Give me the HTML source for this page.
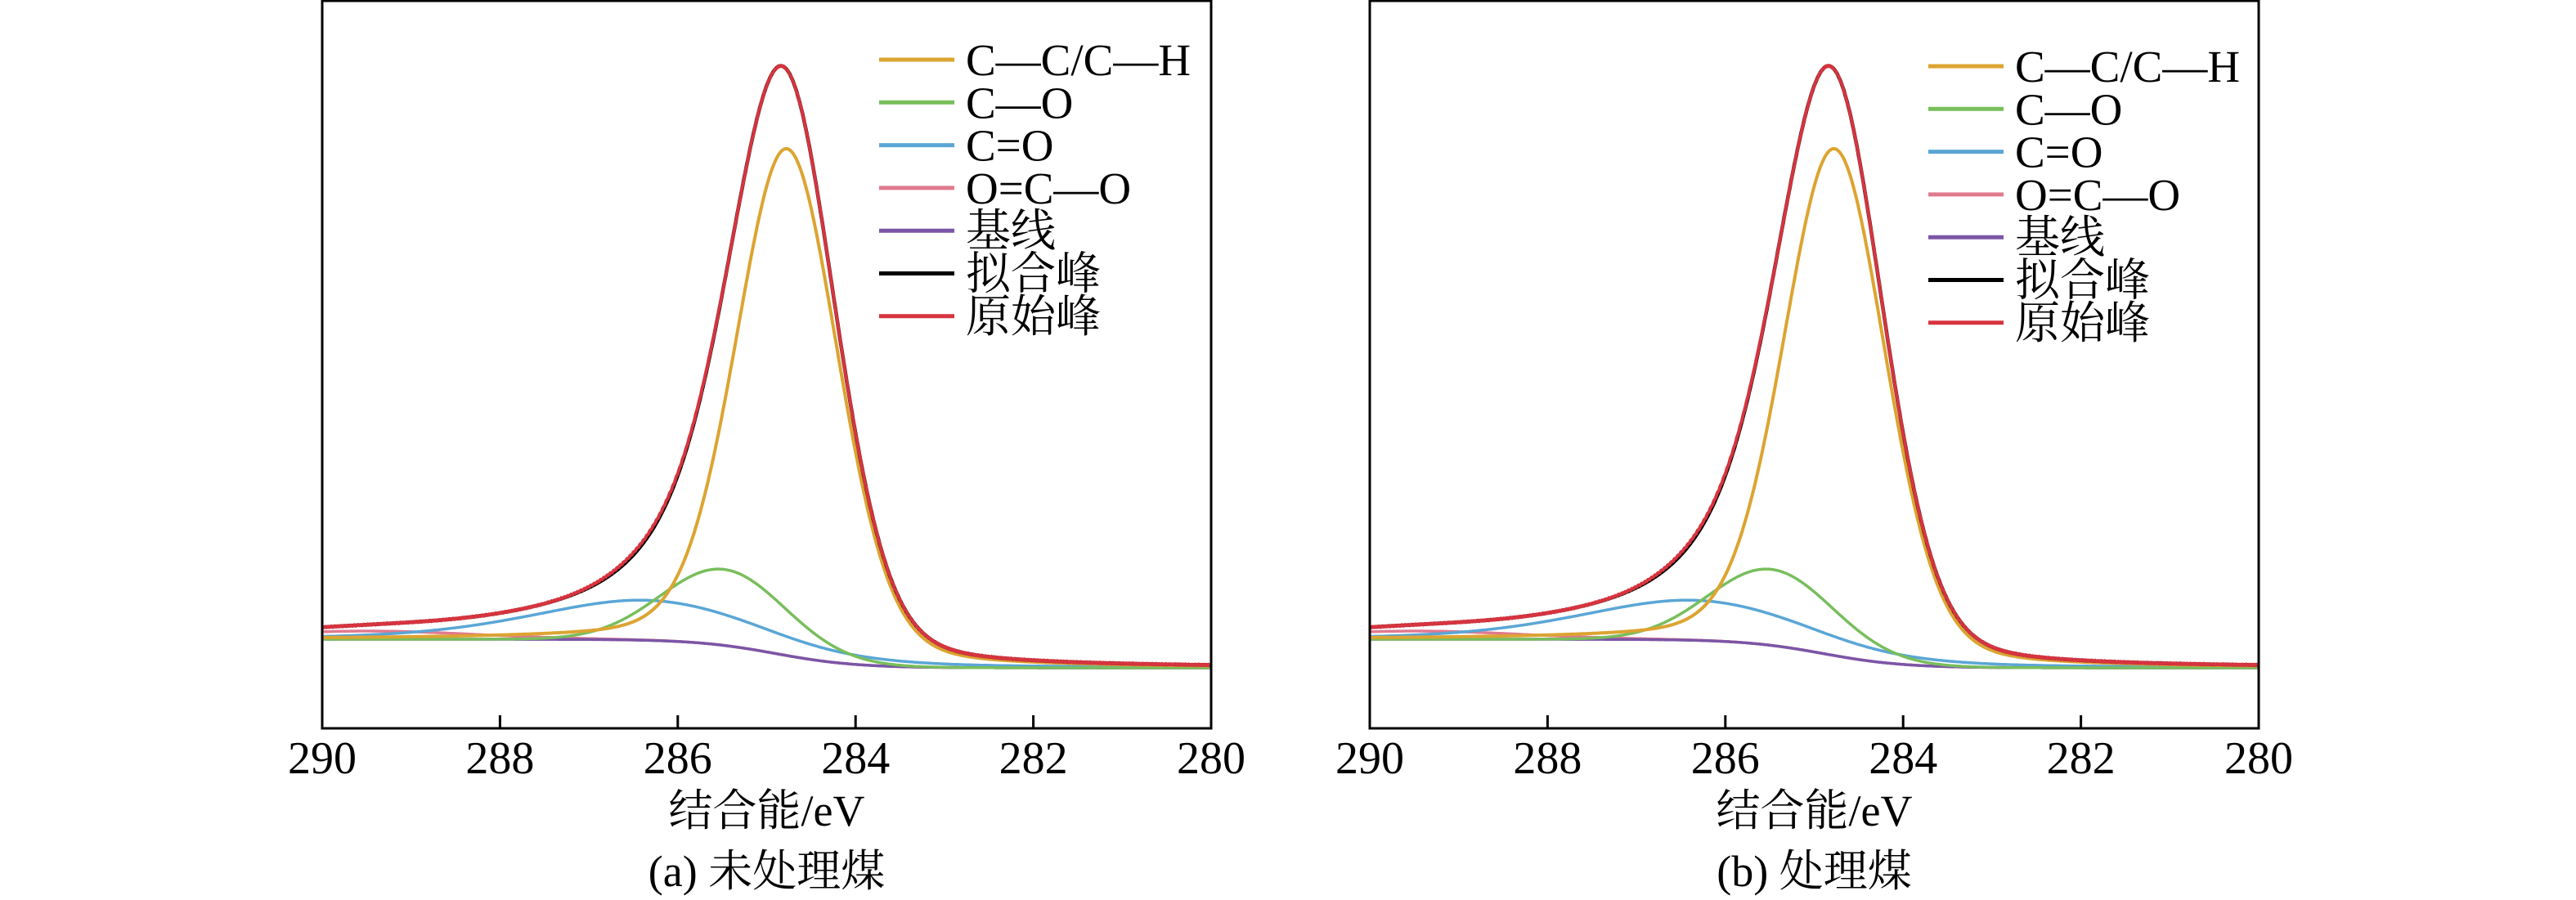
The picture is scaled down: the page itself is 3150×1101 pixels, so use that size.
<!DOCTYPE html>
<html><head><meta charset="utf-8"><style>
html,body{margin:0;padding:0;background:#fff;}
svg{display:block;}
</style></head><body>
<svg id="s" width="3150" height="1101" xmlns="http://www.w3.org/2000/svg"></svg>
<script>
const s=document.getElementById('s');
const FF='"Liberation Serif","Times New Roman","DejaVu Serif","Noto Serif CJK SC","Noto Sans CJK SC",serif';
function el(t,a,txt){const e=document.createElementNS('http://www.w3.org/2000/svg',t);for(const k in a)e.setAttribute(k,a[k]);if(txt!==undefined){e.textContent=txt;e.setAttribute('font-family',FF);e.style.fontFamily=FF;}s.appendChild(e);return e;}
function panel(L,R,legY,legX,caption,shift){
  const T=1,B=891,W=R-L;
  const X=x=>L+(290-x)*W/10;
  const base=x=>817-35/(1+Math.exp(-(x-284.9)/0.45));
  const g=(x,c,sg)=>Math.exp(-((x-c)*(x-c))/(2*sg*sg));
  const lz=(x,c,gm)=>1/(1+((x-c)/gm)*((x-c)/gm));
  const yel=x=>620*(0.8*g(x,284.77+shift,0.58)+0.2*lz(x,284.77+shift,0.68));
  const grn=x=>93*g(x,285.48+shift,0.7);
  const blu=x=>49*(0.6*g(x,286.36+shift,1.3)+0.4*lz(x,286.36+shift,1.5));
  const pnk=x=>10*g(x,289.5,1.2);
  const tot=x=>yel(x)+grn(x)+blu(x)+pnk(x)+22*g(x,285.1+shift,0.5);
  function path(f,col,w,noisy){let d='';for(let i=0;i<=1000;i++){const x=290-i*0.01;let y=base(x)-f(x);if(noisy)y+=Math.sin(i*1.7)*0.8;d+=(i?'L':'M')+X(x).toFixed(1)+' '+y.toFixed(1);}el('path',{d,fill:'none',stroke:col,'stroke-width':w,'stroke-linejoin':'round'});}
  path(pnk,'#e07a8f',3.5);
  path(x=>0,'#7b56a6',3.5);
  path(blu,'#5aa6d6',3.5);
  path(grn,'#78be5c',3.5);
  path(yel,'#dca431',4);
  path(tot,'#000',4.5);
  path(x=>tot(x)+ (x>285.5&&x<287.5?3*g(x,286.3,0.5):0),'#d7343f',4,true);
  el('rect',{x:L,y:T,width:W,height:B-T,fill:'none',stroke:'#000','stroke-width':3});
  for(let k=0;k<=5;k++){const x=L+k*W/5;if(k>0&&k<5)el('line',{x1:x,y1:B,x2:x,y2:B-16,stroke:'#000','stroke-width':3});
    el('text',{x:x,y:946,'font-size':56,'text-anchor':'middle'},String(290-2*k));}
  el('text',{x:(L+R)/2,y:1010,'font-size':54,'text-anchor':'middle'},'结合能/eV');
  el('text',{x:(L+R)/2,y:1084,'font-size':54,'text-anchor':'middle'},caption);
  const items=[['C—C/C—H','#dca431'],['C—O','#78be5c'],['C=O','#5aa6d6'],['O=C—O','#e07a8f'],['基线','#7b56a6'],['拟合峰','#000'],['原始峰','#d7343f']];
  items.forEach((it,i)=>{const y=legY+i*52.3;el('line',{x1:legX,y1:y,x2:legX+92,y2:y,stroke:it[1],'stroke-width':5});
    el('text',{x:legX+106,y:y+19,'font-size':55},it[0]);});
}
panel(394,1481,73,1075,'(a) 未处理煤',0);
panel(1675,2762,81,2358,'(b) 处理煤',0);
</script>
</body></html>
